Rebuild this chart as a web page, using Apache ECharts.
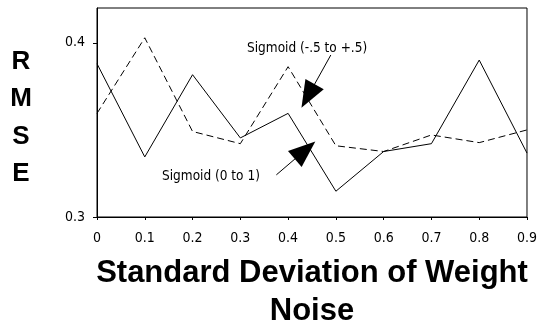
<!DOCTYPE html>
<html>
<head>
<meta charset="utf-8">
<script src="https://cdn.jsdelivr.net/npm/echarts@6/dist/echarts.min.js"></script>
<style>
html,body{margin:0;padding:0;background:#fff;}
#c{width:540px;height:335px;}
</style>
</head>
<body>
<div id="c"></div>
<script>
// ---- data ----
var noiseSD = [0, 0.1, 0.2, 0.3, 0.4, 0.5, 0.6, 0.7, 0.8, 0.9];
var sigmoid01 = [0.388, 0.3345, 0.3817, 0.3454, 0.3595, 0.3148, 0.3376, 0.3421, 0.3901, 0.3367];
var sigmoidHalf = [0.3595, 0.4029, 0.3491, 0.3421, 0.3863, 0.3409, 0.3376, 0.3471, 0.3427, 0.350];
var seriesNames = ['Sigmoid (0 to 1)', 'Sigmoid (-.5 to +.5)'];
var xTitle = 'Standard Deviation of Weight\nNoise';
var yTitle = 'R\nM\nS\nE';
// annotation anchors in data units: [labelX, labelY, arrowTailX, arrowTailY, arrowTipX, arrowTipY]
var note01 = [0.2385, 0.3235, 0.3754, 0.3242, 0.4355, 0.3383];
var noteHalf = [0.4397, 0.3969, 0.4894, 0.393, 0.4417, 0.3695];

var narrow = "'Liberation Sans Narrow', 'DejaVu Sans Condensed', sans-serif";
var boldFont = "'Liberation Sans', Arial, sans-serif";

function pairs(xs, ys){ return xs.map(function(x,i){ return [x, ys[i]]; }); }

function annotations(n, name){
  return {
    markPoint: {
      silent: true,
      animation: false,
      symbol: 'rect',
      symbolSize: [1, 1],
      itemStyle: { color: 'rgba(0,0,0,0)' },
      label: { show: true, formatter: name, color: '#000', fontFamily: narrow, fontSize: 13.5, position: 'inside' },
      data: [{ coord: [n[0], n[1]] }]
    },
    markLine: {
      silent: true,
      animation: false,
      symbol: ['none', 'triangle'],
      label: { show: false },
      lineStyle: { color: '#000', width: 1, type: 'solid' },
      data: [[
        { coord: [n[2], n[3]], symbol: 'none' },
        { coord: [n[4], n[5]], symbol: 'triangle', symbolSize: [21, 27] }
      ]]
    }
  };
}

var chart = echarts.init(document.getElementById('c'), null, { renderer: 'canvas' });

var s1 = {
  name: seriesNames[0], type: 'line', data: pairs(noiseSD, sigmoid01),
  showSymbol: false, symbol: 'none', animation: false,
  lineStyle: { color: '#000', width: 1, type: 'solid' }
};
Object.assign(s1, annotations(note01, seriesNames[0]));
var s2 = {
  name: seriesNames[1], type: 'line', data: pairs(noiseSD, sigmoidHalf),
  showSymbol: false, symbol: 'none', animation: false,
  lineStyle: { color: '#000', width: 1, type: [7, 4] }
};
Object.assign(s2, annotations(noteHalf, seriesNames[1]));

chart.setOption({
  animation: false,
  backgroundColor: '#fff',
  grid: { left: 97, right: 9, top: 8, bottom: 108, show: true, borderColor: '#000', borderWidth: 1, backgroundColor: 'transparent' },
  xAxis: {
    type: 'value', min: 0, max: 0.9, interval: 0.1,
    axisLine: { lineStyle: { color: '#000', width: 1 } },
    axisTick: { length: 3, lineStyle: { color: '#000' } },
    splitLine: { show: false },
    axisLabel: { color: '#000', fontFamily: narrow, fontSize: 14, margin: 14 },
    name: xTitle, nameLocation: 'middle', nameGap: 37,
    nameTextStyle: { color: '#000', fontFamily: boldFont, fontWeight: 'bold', fontSize: 31, lineHeight: 38 }
  },
  yAxis: {
    type: 'value', min: 0.3, max: 0.42, interval: 0.1,
    axisLine: { show: true, lineStyle: { color: '#000', width: 1 } },
    axisTick: { show: true, length: 4, lineStyle: { color: '#000' } },
    splitLine: { show: false },
    axisLabel: { color: '#000', fontFamily: narrow, fontSize: 14, margin: 12, showMaxLabel: false }
  },
  graphic: [{
    type: 'text', x: 21, y: 118,
    style: { text: yTitle, fill: '#000', font: "bold 26px 'Liberation Sans', Arial, sans-serif", align: 'center', verticalAlign: 'middle', lineHeight: 37.5 }
  }],
  series: [s1, s2]
});
</script>
</body>
</html>
